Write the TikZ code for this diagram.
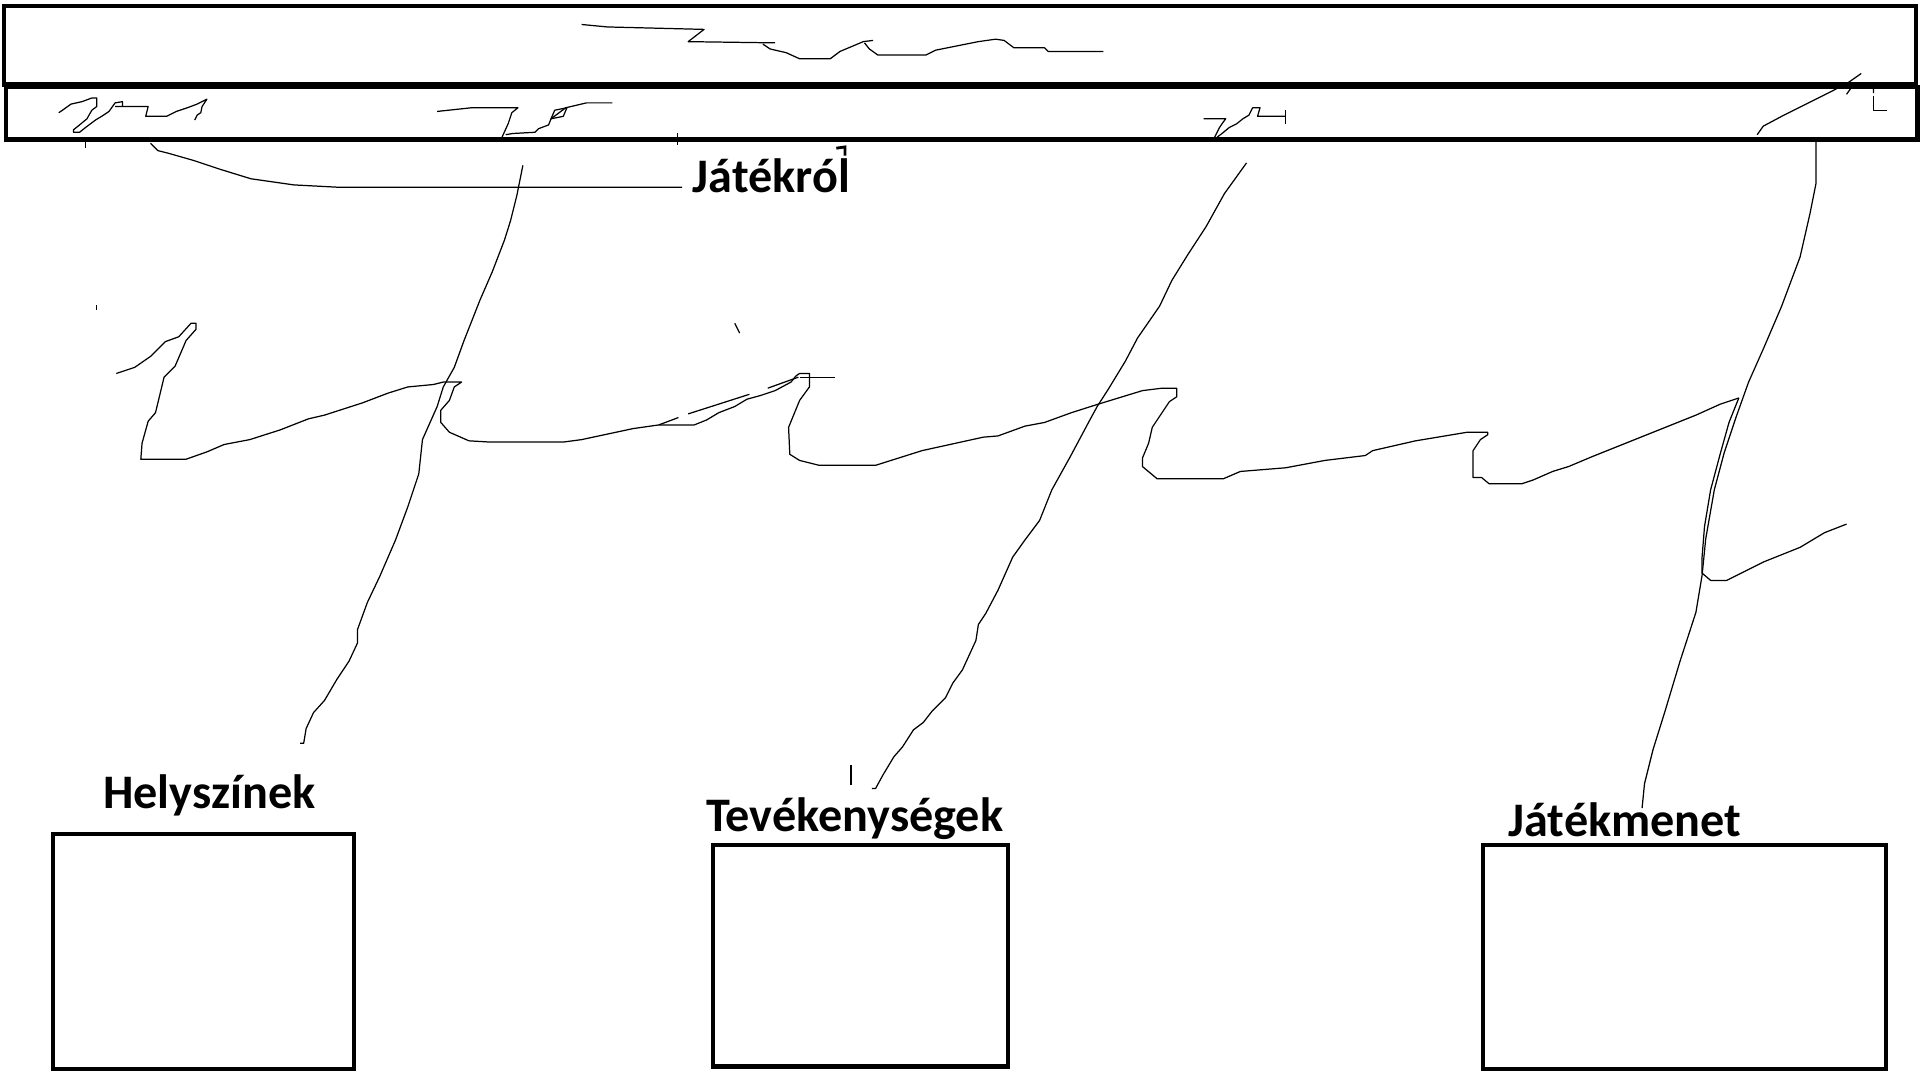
\documentclass[tikz,border=0pt]{standalone}
\usepackage{fontspec}
\setmainfont{Carlito}
\usetikzlibrary{calc}

\tikzset{
  keret/.style={line width=1.2pt},
  vonal/.style={line width=0.35pt, line join=round},
  felirat/.style={font=\bfseries\fontsize{13.7}{16}\selectfont, inner sep=0pt, anchor=base}
}

\begin{document}
\begin{tikzpicture}[x=0.012245cm,y=-0.012245cm]
\useasboundingbox (0,0) rectangle (1568,882);

\coordinate (Afent) at (427,135);
\coordinate (Alent) at (245,607);
\coordinate (Bfent) at (1018,133);
\coordinate (Blent) at (712,644);
\coordinate (Cfent) at (1483,112);
\coordinate (Clent) at (1341,660);

\draw[keret] (3,5) rectangle (1565,69);
\draw[keret] (5,71) rectangle (1566,114);
\draw[keret] (43,681) rectangle (289,873);
\draw[keret] (582,690) rectangle (823,871);
\draw[keret] (1211,690) rectangle (1540,873);

\node[felirat] (jatekrol) at (630,157) {Játékról};
\node[felirat] (helyszinek) at (171,660) {Helyszínek};
\node[felirat] (tevekenysegek) at (698,679) {Tevékenységek};
\node[felirat] (jatekmenet) at (1327,683) {Játékmenet};

\draw[vonal] (475,20) -- (496,22) -- (575,24) -- (562,34) -- (633,35);
\draw[vonal] (623,36) -- (629,40) -- (642,43) -- (653,48) -- (678,48) -- (686,42) -- (705,34) -- (713,33);
\draw[vonal] (706,35) -- (710,40) -- (717,45) -- (756,45) -- (764,41) -- (799,34) -- (813,32) -- (820,33) -- (828,39) -- (853,39) -- (856,42) -- (901,42);

\draw[vonal] (48,92) -- (51,90) -- (58,85) -- (67,83) -- (75,80) -- (79,80) -- (79,87) -- (75,90) -- (71,97) -- (65,102) -- (60,106) -- (60,108) -- (65,108) -- (70,104) -- (78,98) -- (83,95) -- (89,91) -- (94,84) -- (100,83) -- (100,87);
\draw[vonal] (94,87) -- (121,87) -- (119,95) -- (136,95) -- (144,91) -- (153,88) -- (161,85) -- (169,81) -- (165,87) -- (164,92) -- (161,94) -- (159,98);
\draw[vonal] (357,91) -- (385,88) -- (423,88) -- (418,92) -- (415,101) -- (410,112);
\draw[vonal] (413,110) -- (419,109) -- (437,108) -- (440,105) -- (448,102) -- (450,97) -- (454,94) -- (462,88) -- (479,84) -- (500,84);
\draw[vonal] (450,97) -- (453,90) -- (463,88) -- (460,95) -- cycle;
\draw[vonal] (983,97) -- (1001,97) -- (998,101) -- (996,104) -- (992,112);
\draw[vonal] (994,112) -- (998,109) -- (1004,104) -- (1010,101) -- (1015,97) -- (1020,94) -- (1023,88) -- (1029,88) -- (1027,95) -- (1050,95);
\draw[vonal] (1050,90) -- (1050,101);
\draw[vonal] (1435,110) -- (1440,103) -- (1455,95) -- (1475,85) -- (1495,75) -- (1510,67) -- (1520,60);
\draw[vonal] (1508,77) -- (1513,70) -- (1530,70) -- (1530,76);
\draw[vonal] (1530,78) -- (1530,90) -- (1541,90);

\draw[vonal] (70,115) -- (70,121);
\draw[vonal] (553,109) -- (553,118);
\draw[vonal] (79,249) -- (79,253);
\draw[vonal] (600,264) -- (604,272);
\draw[vonal] (695,625) -- (695,641);
\draw[line width=0.8pt] (683,121) -- (690,120) -- (690,127);

\draw[vonal] (123,117) -- (129,123) -- (137,125) -- (158,131) -- (179,138) -- (205,146) -- (240,151) -- (278,153) -- (557,153);

\draw[vonal] (Afent) -- (422,160) -- (417,180) -- (412,196) -- (402,222) -- (392,245) -- (379,278) -- (371,300) -- (362,316) -- (357,332) -- (345,359) -- (342,387) -- (333,414) -- (323,441) -- (310,471) -- (300,492) -- (292,514) -- (292,525) -- (285,540) -- (275,555) -- (265,572) -- (256,582) -- (250,595) -- (248,607) -- (Alent);
\draw[vonal] (Bfent) -- (1000,158) -- (985,185) -- (970,208) -- (957,229) -- (947,250) -- (929,276) -- (919,295) -- (905,318) -- (896,332) -- (890,343) -- (874,373) -- (859,400) -- (849,425) -- (837,441) -- (827,455) -- (815,482) -- (805,501) -- (799,510) -- (797,523) -- (786,547) -- (778,558) -- (772,570) -- (761,581) -- (754,590) -- (746,596) -- (737,610) -- (730,618) -- (721,633) -- (715,644) -- (Blent);
\draw[vonal] (Cfent) -- (1483,150) -- (1478,175) -- (1470,210) -- (1455,250) -- (1440,285) -- (1428,312) -- (1418,340) -- (1408,370) -- (1400,400) -- (1393,440) -- (1390,470) -- (1385,500) -- (1372,540) -- (1360,580) -- (1350,612) -- (1343,640) -- (Clent);
\draw[vonal] (1420,325) -- (1412,345) -- (1405,370) -- (1397,400) -- (1392,430) -- (1390,455) -- (1390,468) -- (1397,474) -- (1410,474) -- (1440,459) -- (1470,447) -- (1490,435) -- (1508,428);

\draw[vonal] (95,305) -- (110,300) -- (123,291) -- (135,279) -- (146,275) -- (156,264) -- (160,264) -- (160,269) -- (152,278) -- (143,299) -- (134,308) -- (127,337) -- (121,344) -- (116,362) -- (115,375) -- (152,375) -- (169,369) -- (183,363) -- (204,359) -- (229,351) -- (252,342) -- (265,339) -- (296,329) -- (317,321) -- (333,316) -- (354,314) -- (362,312) -- (377,312) -- (371,316) -- (367,327) -- (360,335) -- (360,345) -- (367,353) -- (383,360) -- (400,361) -- (460,361) -- (475,359) -- (517,350) -- (538,347) -- (567,347) -- (577,343) -- (587,337) -- (600,332) -- (610,326) -- (621,323) -- (633,319) -- (646,312) -- (650,307) -- (653,305) -- (661,305) -- (661,316) -- (653,327) -- (644,349) -- (645,371) -- (653,376) -- (669,380) -- (715,380) -- (753,368) -- (803,357) -- (815,356) -- (837,348) -- (853,345) -- (875,337) -- (897,330) -- (933,319) -- (949,317) -- (961,317) -- (961,324) -- (955,328) -- (941,349) -- (938,362) -- (933,374) -- (933,381) -- (945,391) -- (999,391) -- (1013,385) -- (1050,382) -- (1082,376) -- (1115,372) -- (1121,368) -- (1156,360) -- (1198,353) -- (1215,353) -- (1215,355) -- (1209,359) -- (1203,368) -- (1203,390) -- (1210,390) -- (1216,395) -- (1243,395) -- (1252,392) -- (1268,385) -- (1281,381) -- (1300,373) -- (1330,361) -- (1360,349) -- (1385,339) -- (1405,330) -- (1420,325);
\draw[vonal] (538,347) -- (554,341);
\draw[vonal] (562,338) -- (612,322);
\draw[vonal] (627,317) -- (652,308);
\draw[vonal] (653,308) -- (682,308);
\end{tikzpicture}
\end{document}
